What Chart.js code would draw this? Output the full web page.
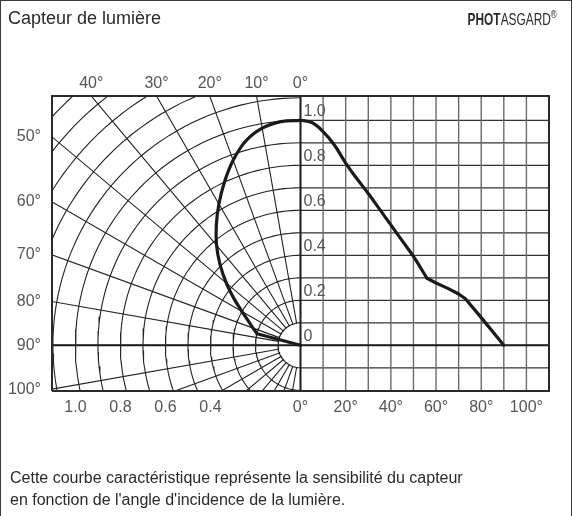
<!DOCTYPE html>
<html><head><meta charset="utf-8">
<script src="https://cdn.jsdelivr.net/npm/chart.js@4/dist/chart.umd.min.js"></script>
<style>
html,body{margin:0;padding:0;background:#fff;}
#wrap{position:relative;width:573px;height:516px;overflow:hidden;font-family:"Liberation Sans",Arial,sans-serif;color:#2a2a2a;}
#frame{position:absolute;left:0;top:0;width:570px;height:530px;border:1.5px solid #3a3a3a;border-bottom:none;}
canvas{position:absolute;left:0;top:0;}
.title{position:absolute;left:8px;top:8px;font-size:18px;}
.brand{position:absolute;right:16px;top:8px;font-size:16.5px;transform:scaleX(0.72);transform-origin:right center;white-space:nowrap;}
.brand sup{font-size:11px;}
.cap{position:absolute;left:10px;top:467px;font-size:16px;line-height:22px;}
</style></head>
<body><div id="wrap"><div id="frame"></div><canvas id="c" width="573" height="516"></canvas>
<div class="title">Capteur de lumière</div>
<div class="brand"><b>PHOT</b>ASGARD<sup>®</sup></div>
<div class="cap">Cette courbe caractéristique représente la sensibilité du capteur<br>en fonction de l'angle d'incidence de la lumière.</div>
</div>
<script>
// ---- data ----
const polarAngles = [0, 5, 10, 15, 20, 25, 30, 35, 40, 45, 50, 55, 60, 65, 70, 75, 90];
const polarValues = [1.0, 0.998, 0.98, 0.94, 0.875, 0.80, 0.725, 0.652, 0.58, 0.505, 0.43, 0.36, 0.30, 0.255, 0.225, 0.2, 0];
const cartAngles = [0, 5, 10, 15, 20, 25, 30, 35, 40, 45, 50, 56, 60, 65, 70, 73, 80, 90];
const cartValues = [1.0, 0.99, 0.95, 0.89, 0.81, 0.74, 0.675, 0.605, 0.535, 0.465, 0.395, 0.298, 0.277, 0.254, 0.228, 0.207, 0.123, 0];

// ---- tick / grid values ----
const radialTickValues = [1.0, 0.8, 0.6, 0.4];
const degTickValues = [0, 20, 40, 60, 80, 100];
const topAngleTicks = [40, 30, 20, 10, 0];
const leftAngleTicks = [50, 60, 70, 80, 90, 100];
const sensTicks = [0, 0.2, 0.4, 0.6, 0.8, 1.0];
const circleRadii = [0.1,0.2,0.3,0.4,0.5,0.6,0.7,0.8,0.9,1.0,1.1,1.2,1.3,1.4,1.5,1.6];
const spokeAngles = [0,10,20,30,40,50,60,70,80,90,100,110,120,130,140,150,160,170,180];
const gridDegrees = [10,20,30,40,50,60,70,80,90,100];
const gridLevels = [-0.1,0,0.1,0.2,0.3,0.4,0.5,0.6,0.7,0.8,0.9,1.0];
// where the smooth part of each curve ends (angle of the first kink)
const polarSmoothEnd = 60;
const cartSmoothEnd = 56;

// ---- axis bounds (data units: polar radius 1.0) ----
const X_MIN = -1.104, X_MAX = 1.104, Y_MIN = -0.203, Y_MAX = 1.108;
const DEG_AT_RIGHT = 110;
const degToX = d => d * X_MAX / DEG_AT_RIGHT;
const rad = a => a * Math.PI / 180;
const polarXY = (a, r) => ({x: -r * Math.sin(rad(a)), y: r * Math.cos(rad(a))});

const FONT = "'Liberation Sans',Arial,sans-serif";
const TICK_COLOR = '#555';

const datasets = [];
function line(data, color, width, order, extra) {
  datasets.push(Object.assign({data, borderColor: color, borderWidth: width, order,
    showLine: true, pointRadius: 0, pointHoverRadius: 0, tension: 0, fill: false,
    borderCapStyle: 'round', borderJoinStyle: 'round'}, extra || {}));
}
// curves (smooth part + straight part)
const polarPts = polarAngles.map((a, i) => polarXY(a, polarValues[i]));
const pk = polarAngles.indexOf(polarSmoothEnd);
line(polarPts.slice(0, pk + 1), '#1a1a1a', 3.2, 0, {tension: 0.4});
line(polarPts.slice(pk), '#1a1a1a', 3.2, 0);
const cartPts = cartAngles.map((a, i) => ({x: degToX(a), y: cartValues[i]}));
const ck = cartAngles.indexOf(cartSmoothEnd);
line(cartPts.slice(0, ck + 1), '#1a1a1a', 3.2, 0, {tension: 0.4});
line(cartPts.slice(ck), '#1a1a1a', 3.2, 0);
// frame of the plot + main axes
line([{x:X_MIN,y:Y_MIN},{x:X_MIN,y:Y_MAX},{x:X_MAX,y:Y_MAX},{x:X_MAX,y:Y_MIN},{x:X_MIN,y:Y_MIN}], '#2a2a2a', 2, 1, {clip: 4, borderCapStyle: 'butt', borderJoinStyle: 'miter'});
line([{x:0,y:Y_MIN},{x:0,y:Y_MAX}], '#1e1e1e', 2, 1, {clip: 4});
line([{x:X_MIN,y:0},{x:X_MAX,y:0}], '#1e1e1e', 2, 1, {clip: 4});
// polar circles
circleRadii.forEach(r => {
  const pts = [];
  for (let a = 0; a <= 180; a += 2) pts.push(polarXY(a, r));
  line(pts, '#222', 1.1, 3);
});
// polar spokes
spokeAngles.forEach(a => line([polarXY(a, 0.1), polarXY(a, 2.2)], '#222', 1.1, 3));
// cartesian grid
gridDegrees.forEach(d => line([{x:degToX(d),y:Y_MIN},{x:degToX(d),y:Y_MAX}], '#6a6a6a', 1.4, 2));
gridLevels.forEach(v => line([{x:0,y:v},{x:X_MAX,y:v}], '#333', 1.3, 2));

const bottomPos = radialTickValues.map(r => -r).concat(degTickValues.map(degToX));
const bottomLab = radialTickValues.map(r => r.toFixed(1)).concat(degTickValues.map(d => d + '°'));
const topPos = topAngleTicks.map(a => -Y_MAX * Math.tan(rad(a)));
const leftPos = leftAngleTicks.map(a => -X_MIN / Math.tan(rad(a)));

const innerLabels = {
  id: 'innerLabels',
  afterDatasetsDraw(chart) {
    const {ctx, scales: {x, y}} = chart;
    ctx.save();
    ctx.font = '16px ' + FONT;
    ctx.fillStyle = TICK_COLOR;
    ctx.textAlign = 'left';
    ctx.textBaseline = 'alphabetic';
    sensTicks.forEach(v => {
      ctx.fillText(v === 0 ? '0' : v.toFixed(1), x.getPixelForValue(0) + 3, y.getPixelForValue(v) - 4);
    });
    ctx.restore();
  }
};

const tickFont = {family: FONT, size: 16};
new Chart(document.getElementById('c'), {
  type: 'scatter',
  data: {datasets},
  options: {
    responsive: false, animation: false, events: [],
    layout: {padding: {left: 0, right: 24, top: 0, bottom: 0}},
    plugins: {legend: {display: false}, tooltip: {enabled: false}},
    scales: {
      x: {type: 'linear', position: 'bottom', min: X_MIN, max: X_MAX,
          grid: {display: false, drawTicks: false}, border: {display: false},
          afterBuildTicks: s => { s.ticks = bottomPos.map(v => ({value: v})); },
          afterFit: s => { s.height = 125; },
          ticks: {autoSkip: false, maxRotation: 0, padding: 7, color: TICK_COLOR, font: tickFont,
                  callback: (v, i) => bottomLab[i]}},
      x2: {type: 'linear', position: 'top', min: X_MIN, max: X_MAX,
          grid: {display: false, drawTicks: false}, border: {display: false},
          afterBuildTicks: s => { s.ticks = topPos.map(v => ({value: v})); },
          afterFit: s => { s.height = 96; },
          ticks: {autoSkip: false, maxRotation: 0, padding: 3, color: TICK_COLOR, font: tickFont,
                  callback: (v, i) => topAngleTicks[i] + '°'}},
      y: {type: 'linear', position: 'left', min: Y_MIN, max: Y_MAX,
          grid: {display: false, drawTicks: false}, border: {display: false},
          afterBuildTicks: s => { s.ticks = leftPos.map(v => ({value: v})); },
          afterFit: s => { s.width = 52; },
          ticks: {autoSkip: false, padding: 11, color: TICK_COLOR, font: tickFont,
                  callback: (v, i) => leftAngleTicks[i] + '°'}}
    }
  },
  plugins: [innerLabels]
});
</script>
</body></html>
